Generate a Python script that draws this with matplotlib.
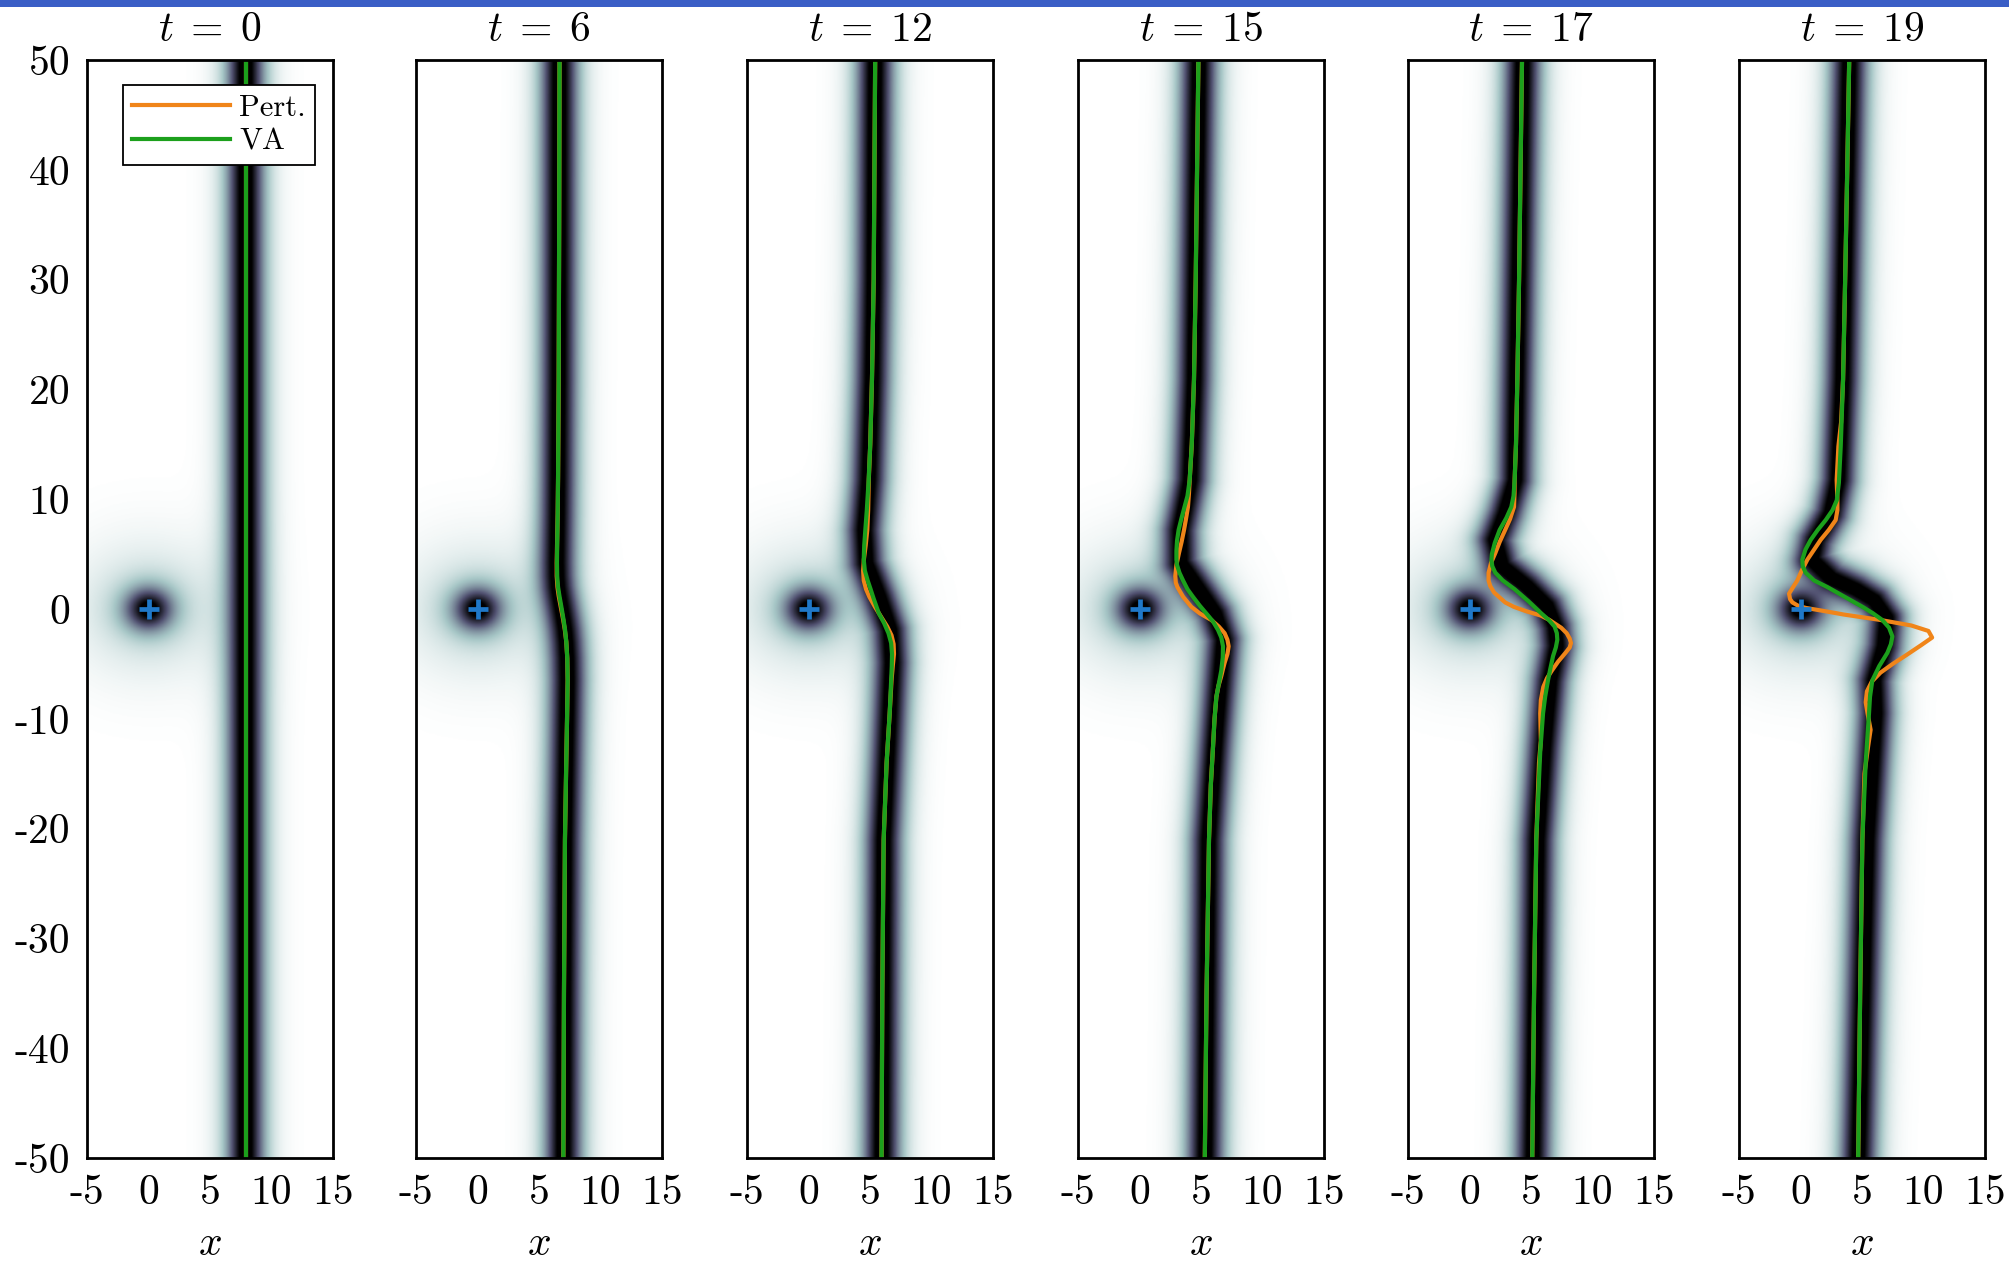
import numpy as np
import matplotlib
matplotlib.use("Agg")
import matplotlib.pyplot as plt
from matplotlib.patches import Rectangle

plt.rcParams["font.family"] = "serif"
plt.rcParams["font.serif"] = ["cmr10"]
plt.rcParams["mathtext.fontset"] = "cm"
plt.rcParams["axes.unicode_minus"] = False
plt.rcParams["axes.formatter.use_mathtext"] = True

# ---------------------------------------------------------------- data
times = [0, 6, 12, 15, 17, 19]
x_ticks = [-5, 0, 5, 10, 15]
x_tick_labels = ["-5", "0", "5", "10", "15"]
y_ticks = [50, 40, 30, 20, 10, 0, -10, -20, -30, -40, -50]
y_tick_labels = ["50", "40", "30", "20", "10", "0", "-10", "-20", "-30", "-40", "-50"]
impurity = (0.0, 0.0)

# VA (variational) soliton centre x(y), one curve per time
va_y_t0 = [50, -50]
va_x_t0 = [7.9, 7.9]
va_y_t6 = [50, 35, 20.9, 12, 8.7, 6, 4.2, 3, 2, 1.2, 0, -1, -1.9, -3, -4.5, -6.5, -10, -15, -21, -35, -50]
va_x_t6 = [6.67, 6.64, 6.6, 6.55, 6.52, 6.48, 6.46, 6.48, 6.55, 6.66, 6.85, 7.0, 7.12, 7.22, 7.3, 7.33,
           7.28, 7.2, 7.11, 7.03, 6.98]
va_y_t12 = [50, 40, 30, 20.9, 15, 11.75, 9, 7.2, 5.8, 4.5, 3.5, 2.6, 1.8, 1.0, 0.3, -0.4, -1.3, -2.2,
            -3.1, -4.1, -5.2, -6.5, -9.5, -14, -21, -35, -50]
va_x_t12 = [5.42, 5.36, 5.3, 5.16, 5.02, 4.89, 4.74, 4.62, 4.53, 4.49, 4.58, 4.81, 5.05, 5.28, 5.5, 5.72,
            6.15, 6.5, 6.72, 6.79, 6.77, 6.72, 6.6, 6.35, 6.11, 6.0, 5.94]
va_y_t15 = [50, 40, 30, 20.9, 15, 11.75, 10.3, 9.3, 8.2, 7.2, 6.2, 5.3, 4.5, 4.0, 3.3, 2.6, 1.8, 1.1,
            0.3, -0.4, -1.1, -1.9, -2.6, -3.4, -4.4, -5.6, -6.8, -8.0, -10, -12.5, -16, -21, -35, -50]
va_x_t15 = [4.79, 4.68, 4.57, 4.43, 4.25, 4.08, 3.9, 3.66, 3.4, 3.18, 3.05, 3.0, 3.0, 3.05, 3.25, 3.54,
            3.9, 4.35, 4.9, 5.43, 5.95, 6.38, 6.65, 6.79, 6.77, 6.65, 6.45, 6.25, 6.1, 5.98, 5.8, 5.65,
            5.45, 5.31]
va_y_t17 = [50, 40, 30, 20.9, 15, 11.75, 10.3, 9.3, 8.3, 7.2, 6.0, 5.0, 4.5, 3.9, 3.3, 2.6, 1.8, 0.7,
            -0.4, -1.0, -1.6, -2.2, -2.8, -3.5, -4.3, -5.4, -6.5, -8, -9.5, -13, -21, -35, -50]
va_x_t17 = [4.27, 4.15, 4.03, 3.89, 3.78, 3.67, 3.58, 3.4, 3.0, 2.45, 2.05, 1.82, 1.78, 1.85, 2.1, 2.7,
            3.67, 4.8, 5.84, 6.45, 6.92, 7.1, 7.14, 7.02, 6.79, 6.58, 6.38, 6.15, 5.98, 5.75, 5.43, 5.25,
            5.1]
va_y_t19 = [50, 40, 30, 20.9, 14.8, 11.5, 9.9, 9.0, 8.1, 7.2, 6.3, 5.4, 4.5, 3.9, 3.3, 2.6, 2.0, 1.1,
            0.2, -0.4, -1.0, -1.7, -2.5, -3.2, -4.0, -5.2, -6.5, -8, -9.5, -14, -21, -35, -50]
va_x_t19 = [3.96, 3.8, 3.63, 3.46, 3.27, 3.12, 2.95, 2.6, 2.05, 1.4, 0.83, 0.4, 0.15, 0.18, 0.42, 1.1,
            2.18, 3.6, 5.03, 5.9, 6.65, 7.2, 7.47, 7.35, 7.06, 6.4, 5.84, 5.65, 5.57, 5.3, 5.03, 4.85,
            4.69]

# perturbative soliton centre x(y)
pt_y_t0 = [50, -50]
pt_x_t0 = [7.9, 7.9]
pt_y_t6 = [50, 35, 20.9, 12, 8.7, 6, 4.2, 3, 2, 1.2, 0, -1, -1.9, -3, -4.5, -6.5, -10, -15, -21, -35, -50]
pt_x_t6 = [6.67, 6.64, 6.6, 6.55, 6.52, 6.47, 6.44, 6.44, 6.5, 6.6, 6.8, 6.97, 7.1, 7.22, 7.3, 7.33,
           7.28, 7.2, 7.11, 7.03, 6.98]
pt_y_t12 = [50, 40, 30, 20.9, 15, 11.75, 9, 7.2, 5.8, 4.5, 3.5, 2.6, 1.8, 1.1, 0.2, -0.8, -1.6, -2.4,
            -3.2, -4.1, -5.2, -6.5, -9.5, -14, -21, -35, -50]
pt_x_t12 = [5.42, 5.36, 5.3, 5.16, 5.02, 4.9, 4.85, 4.78, 4.65, 4.5, 4.44, 4.49, 4.68, 4.95, 5.4, 5.95,
            6.4, 6.75, 6.92, 6.95, 6.85, 6.75, 6.6, 6.35, 6.11, 6.0, 5.94]
pt_y_t15 = [50, 40, 30, 20.9, 15, 11.75, 10.5, 9.3, 8.2, 7.2, 6.1, 5.1, 4.0, 3.0, 2.4, 2.0, 1.1, 0.2,
            -0.4, -1.0, -1.6, -2.2, -2.8, -3.4, -4.1, -4.9, -5.5, -6.1, -7, -8.0, -10, -12.5, -16, -21,
            -35, -50]
pt_x_t15 = [4.79, 4.68, 4.57, 4.43, 4.25, 4.08, 4.02, 3.94, 3.78, 3.62, 3.42, 3.21, 3.0, 2.91, 2.95,
            3.08, 3.55, 4.21, 4.9, 5.84, 6.45, 6.92, 7.15, 7.25, 7.15, 6.92, 6.78, 6.65, 6.42, 6.25, 6.1,
            5.98, 5.8, 5.65, 5.45, 5.31]
pt_y_t17 = [50, 40, 30, 20.9, 15, 11.75, 10.5, 9.3, 8.2, 7.2, 6.1, 5.1, 4.2, 3.3, 2.6, 2.1, 1.5, 1.1,
            0.6, 0.2, -0.2, -0.6, -1.0, -1.3, -1.7, -2.2, -2.7, -3.1, -3.5, -4.0, -4.8, -5.6, -6.3, -7.1,
            -8.3, -9.5, -10.5, -12, -14, -21, -35, -50]
pt_x_t17 = [4.27, 4.15, 4.03, 3.89, 3.78, 3.67, 3.66, 3.62, 3.3, 2.9, 2.45, 2.1, 1.75, 1.55, 1.55,
            1.68, 2.0, 2.4, 2.9, 3.6, 4.6, 5.8, 6.5, 6.9, 7.45, 7.9, 8.15, 8.25, 8.15, 7.8, 7.2, 6.7, 6.3,
            6.0, 5.8, 5.75, 5.77, 5.8, 5.65, 5.43, 5.25, 5.1]
pt_y_t19 = [50, 40, 30, 20.9, 17, 14.8, 11.75, 9.9, 9.0, 8.1, 7.2, 6.3, 5.4, 4.5, 3.5, 2.6, 2.0, 1.4,
            0.9, 0.6, 0.3, 0.1, -0.2, -0.5, -1.0, -1.5, -2.0, -2.6, -3.3, -4.2, -5.0, -5.8, -6.6, -7.5,
            -8.5, -9.5, -11, -12.5, -15, -21, -35, -50]
pt_x_t19 = [3.96, 3.8, 3.63, 3.46, 3.3, 3.08, 2.94, 3.0, 3.0, 2.86, 2.3, 1.64, 1.1, 0.56, 0.1, -0.26,
            -0.6, -0.93, -0.85, -0.66, -0.2, 0.42, 2.0, 3.5, 6.5, 9.0, 10.4, 10.7, 9.8, 8.6, 7.5, 6.5,
            5.8, 5.4, 5.3, 5.45, 5.7, 5.5, 5.2, 5.03, 4.85, 4.69]

# centre line of the dark stripe in the density (numerics)
dn_y_t0 = [50, -50]
dn_x_t0 = [7.9, 7.9]
dn_y_t6 = va_y_t6
dn_x_t6 = va_x_t6
dn_y_t12 = [50, 30, 20.9, 11.75, 7.2, 4.2, 1.1, -1.9, -4.9, -9.5, -21, -50]
dn_x_t12 = [5.42, 5.3, 5.16, 4.89, 4.54, 4.7, 5.76, 6.65, 6.79, 6.6, 6.11, 5.94]
dn_y_t15 = [50, 20.9, 11.75, 7.2, 4.2, 1.1, -0.4, -2.8, -6.5, -12.5, -21, -50]
dn_x_t15 = [4.79, 4.4, 4.08, 3.27, 3.3, 5.2, 6.1, 6.79, 6.52, 6.1, 5.57, 5.3]
dn_y_t17 = [50, 20.9, 11.75, 8.7, 6.3, 3.9, 2.1, 0.3, -1.6, -3.4, -6.5, -12.5, -21, -50]
dn_x_t17 = [4.27, 3.8, 3.67, 2.86, 2.05, 2.6, 4.62, 6.25, 6.92, 7.06, 6.52, 6.03, 5.49, 5.1]
dn_y_t19 = [50, 20.9, 11.75, 8.7, 6.3, 4.5, 2.8, 1.8, 0.8, -0.8, -3.4, -6.5, -9.5, -21, -50]
dn_x_t19 = [3.96, 3.4, 3.05, 2.45, 1.23, 0.9, 2.5, 4.5, 6.0, 7.0, 6.79, 6.0, 6.1, 5.43, 4.7]

va_curves = [(va_x_t0, va_y_t0), (va_x_t6, va_y_t6), (va_x_t12, va_y_t12),
             (va_x_t15, va_y_t15), (va_x_t17, va_y_t17), (va_x_t19, va_y_t19)]
pt_curves = [(pt_x_t0, pt_y_t0), (pt_x_t6, pt_y_t6), (pt_x_t12, pt_y_t12),
             (pt_x_t15, pt_y_t15), (pt_x_t17, pt_y_t17), (pt_x_t19, pt_y_t19)]
dn_curves = [(dn_x_t0, dn_y_t0), (dn_x_t6, dn_y_t6), (dn_x_t12, dn_y_t12),
             (dn_x_t15, dn_y_t15), (dn_x_t17, dn_y_t17), (dn_x_t19, dn_y_t19)]

# ---------------------------------------------------------------- density
gx = np.linspace(-5, 15, 320)
gy = np.linspace(-50, 50, 1400)
GX, GY = np.meshgrid(gx, gy)


def polyline_distance(X, Y, xs, ys):
    d = np.full(X.shape, np.inf)
    for i in range(len(xs) - 1):
        x0, y0, x1, y1 = xs[i], ys[i], xs[i + 1], ys[i + 1]
        dx, dy = x1 - x0, y1 - y0
        L2 = dx * dx + dy * dy
        t = np.clip(((X - x0) * dx + (Y - y0) * dy) / L2, 0.0, 1.0)
        d = np.minimum(d, np.hypot(X - (x0 + t * dx), Y - (y0 + t * dy)))
    return d


def density(xs, ys):
    d = polyline_distance(GX, GY, xs, ys)
    stripe = np.tanh(d / 1.35) ** 2
    r = np.hypot(GX - impurity[0], GY - impurity[1])
    spot = np.tanh(r / 1.7) ** 2 * (1 - 0.12 * np.exp(-r ** 2 / 40.0))
    return stripe * spot


# ---------------------------------------------------------------- figure
W, H = 2009, 1261
FS = 30
fig = plt.figure(figsize=(W / 100, H / 100), dpi=100)
fig.patches.append(Rectangle((0, 1 - 7 / H), 1, 7 / H, transform=fig.transFigure,
                             facecolor="#3a5ec6", edgecolor="none", zorder=10))

lefts = [87, 416, 747, 1078, 1408, 1739]
ax_w, ax_top, ax_bot = 246, 60, 1158

for k, t in enumerate(times):
    ax = fig.add_axes([lefts[k] / W, 1 - ax_bot / H, ax_w / W, (ax_bot - ax_top) / H])
    xs, ys = dn_curves[k]
    ax.imshow(density(xs, ys), extent=[-5, 15, -50, 50], origin="lower",
              cmap="bone", vmin=0.12, vmax=1.0, aspect="auto", interpolation="bilinear")
    px, py = pt_curves[k]
    vx, vy = va_curves[k]
    ax.plot(px, py, color="#f08519", lw=3.0, label="Pert.", solid_joinstyle="round")
    ax.plot(vx, vy, color="#1ca01c", lw=3.0, label="VA", solid_joinstyle="round")
    ax.plot([impurity[0]], [impurity[1]], marker="+", color="#1f78c8",
            markersize=14, mew=3.4, linestyle="none")
    ax.set_xlim(-5, 15)
    ax.set_ylim(-50, 50)
    ax.set_xticks(x_ticks)
    ax.set_xticklabels(x_tick_labels)
    ax.set_yticks(y_ticks)
    if k == 0:
        ax.set_yticklabels(y_tick_labels)
    else:
        ax.set_yticklabels([])
    ax.tick_params(length=0, labelsize=FS, pad=12)
    for s in ax.spines.values():
        s.set_linewidth(2.0)
    ax.set_title(r"$t\;=\;%d$" % t, fontsize=FS, pad=14)
    ax.set_xlabel(r"$x$", fontsize=FS, labelpad=10)
    if k == 0:
        leg = ax.legend(loc="upper left", bbox_to_anchor=(0.146, 0.977), borderaxespad=0,
                        fontsize=22, fancybox=False, framealpha=1, edgecolor="black",
                        handlelength=3.2, labelspacing=0.2, borderpad=0.3,
                        handletextpad=0.3)
        leg.get_frame().set_linewidth(1.3)

fig.savefig("out.png", dpi=100)
